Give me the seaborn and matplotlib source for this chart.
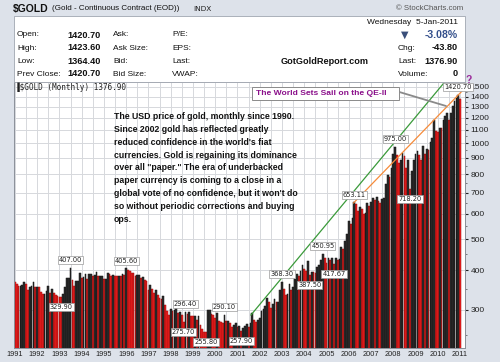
import numpy as np
import pandas as pd
import matplotlib
matplotlib.use("Agg")
import matplotlib.pyplot as plt
import matplotlib.ticker as mticker
from matplotlib.patches import Rectangle
from matplotlib.lines import Line2D
import seaborn as sns

# monthly closes of $GOLD, Jan 1991 .. Jan 2011
prev_close_1990 = 386.2
closes_1991 = [366.0, 362.7, 355.7, 357.8, 360.4, 368.4, 362.9, 347.4, 354.9, 357.5, 366.3, 353.2]
closes_1992 = [354.1, 353.1, 341.7, 336.4, 337.5, 343.4, 357.8, 340.0, 349.0, 339.3, 334.2, 333.0]
closes_1993 = [330.4, 329.9, 337.8, 354.3, 377.5, 378.5, 407.0, 371.6, 355.5, 369.6, 370.9, 391.8]
closes_1994 = [378.0, 381.6, 389.2, 376.5, 387.6, 388.3, 384.0, 385.8, 394.9, 383.1, 383.1, 383.3]
closes_1995 = [374.9, 376.4, 392.0, 389.8, 384.3, 387.1, 383.4, 382.4, 383.9, 382.7, 387.8, 387.0]
closes_1996 = [405.6, 400.7, 396.4, 392.9, 391.7, 382.0, 385.3, 386.5, 379.0, 379.5, 371.3, 369.3]
closes_1997 = [345.5, 358.6, 348.2, 340.2, 345.6, 334.6, 326.4, 325.4, 332.1, 311.4, 296.8, 289.2]
closes_1998 = [303.0, 297.4, 301.0, 308.7, 293.6, 296.3, 288.9, 275.7, 296.4, 292.3, 294.7, 287.8]
closes_1999 = [287.1, 287.3, 279.5, 286.6, 268.6, 261.0, 256.0, 255.8, 299.0, 299.1, 291.4, 288.7]
closes_2000 = [283.7, 293.7, 276.8, 275.1, 272.3, 290.1, 276.8, 277.0, 273.7, 264.5, 269.1, 272.7]
closes_2001 = [264.5, 266.7, 257.9, 263.2, 267.5, 270.6, 265.9, 273.0, 293.1, 278.8, 275.5, 278.7]
closes_2002 = [282.3, 297.0, 301.4, 308.2, 326.6, 318.5, 304.7, 312.8, 323.7, 316.9, 317.1, 347.2]
closes_2003 = [368.3, 350.3, 334.9, 336.8, 361.4, 346.0, 354.8, 375.6, 388.0, 384.0, 398.4, 416.1]
closes_2004 = [402.2, 397.5, 426.8, 387.5, 394.7, 394.6, 391.7, 408.3, 415.6, 429.4, 450.95, 438.0]
closes_2005 = [422.3, 435.5, 428.8, 436.0, 417.67, 435.0, 428.8, 433.3, 472.2, 465.3, 494.6, 518.9]
closes_2006 = [569.7, 557.4, 583.0, 653.11, 643.0, 613.5, 632.5, 623.5, 599.3, 604.2, 648.0, 635.7]
closes_2007 = [652.0, 671.9, 663.0, 679.4, 660.0, 650.5, 666.9, 672.0, 743.0, 794.5, 783.5, 833.8]
closes_2008 = [923.7, 975.0, 916.2, 865.1, 887.3, 928.3, 912.7, 833.0, 884.5, 718.2, 816.2, 883.6]
closes_2009 = [927.3, 942.0, 916.5, 883.2, 978.8, 927.0, 955.4, 953.6, 1007.6, 1039.8, 1181.9, 1095.2]
closes_2010 = [1083.0, 1118.9, 1113.3, 1179.3, 1215.0, 1244.0, 1181.0, 1246.0, 1307.8, 1357.6, 1384.6, 1420.7]
closes_2011 = [1376.9]

# labelled bars: (month index from Jan 1991, placement)
label_idx = [30, 25, 60, 92, 91, 113, 103, 122, 144, 159, 166, 172, 183, 205, 213, 239]
label_side = ['above', 'below', 'above', 'above', 'below', 'above', 'below', 'below',
              'above', 'below', 'above', 'below', 'above', 'above', 'below', 'above']

# trend lines (year, price)
green_t = [2001.60, 2010.37]
green_p = [289, 1574]
orange_t = [2006.21, 2011.18]
orange_p = [649, 1479]

y_ticks = [300, 400, 500, 600, 700, 800, 900, 1000, 1100, 1200, 1300, 1400, 1500]
x_years = list(range(1991, 2012))

text_block = ("The USD price of gold, monthly since 1990.\n"
              "Since 2002 gold has reflected greatly\n"
              "reduced confidence in the world's fiat\n"
              "currencies. Gold is regaining its dominance\n"
              "over all \"paper.\" The era of underbacked\n"
              "paper currency is coming to a close in a\n"
              "global vote of no confidence, but it won't do\n"
              "so without periodic corrections and buying\n"
              "ops.")

closes = (closes_1991 + closes_1992 + closes_1993 + closes_1994 + closes_1995 + closes_1996
          + closes_1997 + closes_1998 + closes_1999 + closes_2000 + closes_2001 + closes_2002
          + closes_2003 + closes_2004 + closes_2005 + closes_2006 + closes_2007 + closes_2008
          + closes_2009 + closes_2010 + closes_2011)
t = [1991 + i / 12 for i in range(len(closes))]
prev = [prev_close_1990] + closes[:-1]
direction = ['up' if c >= p else 'down' for c, p in zip(closes, prev)]
df = pd.DataFrame({'t': t, 'close': closes, 'dir': direction})

sns.set_style("white")
plt.rcParams['font.family'] = ['Liberation Sans', 'DejaVu Sans']

fig = plt.figure(figsize=(5, 3.62), dpi=100)
fig.patch.set_facecolor('#dde2ea')


def P(x, y):
    # pixel -> figure fraction
    return x / 500, 1 - y / 362


# info panel
x0, y0 = P(14, 82)
x1, y1 = P(465, 16)
fig.patches.append(Rectangle((x0, y0), x1 - x0, y1 - y0, transform=fig.transFigure,
                             fc='white', ec='#a0a6b0', lw=0.6, zorder=0))

ax = fig.add_axes([14 / 500, 14 / 362, (465 - 14) / 500, (348 - 82) / 362])
ax.set_facecolor('white')

sns.barplot(data=df, x='t', y='close', hue='dir', native_scale=True, dodge=False,
            palette={'up': '#2e2e2e', 'down': '#f01e1e'}, width=0.95, saturation=1,
            errorbar=None, legend=False, linewidth=0, ax=ax)
# darker outline like the stockcharts bars
for bar in ax.patches:
    fc = bar.get_facecolor()
    bar.set_edgecolor('#111111' if fc[0] < 0.5 else '#9a0c0c')
    bar.set_linewidth(0.35)
ax.set_yscale('log')
ax.set_ylim(228, 1555)
ax.set_xlim(1991 - 0.04, 2011.22)

sns.lineplot(x=green_t, y=green_p, color='#3a9a3a', lw=0.9, ax=ax, zorder=3)
sns.lineplot(x=orange_t, y=orange_p, color='#f68b3a', lw=0.9, ax=ax, zorder=3)

ax.yaxis.tick_right()
ax.yaxis.set_major_locator(mticker.FixedLocator(y_ticks))
ax.yaxis.set_major_formatter(mticker.FixedFormatter([str(v) for v in y_ticks]))
ax.yaxis.set_minor_locator(mticker.FixedLocator(list(range(250, 1550, 50))))
ax.yaxis.set_minor_formatter(mticker.NullFormatter())
ax.xaxis.set_major_locator(mticker.FixedLocator(x_years))
ax.xaxis.set_major_formatter(mticker.FixedFormatter([str(y) for y in x_years]))
ax.xaxis.set_minor_locator(mticker.FixedLocator([y + 0.5 for y in x_years]))
ax.tick_params(axis='y', which='major', labelsize=6, length=2, pad=2, colors='#222222',
               right=True, left=False)
ax.tick_params(axis='y', which='minor', length=1.2, right=True, left=False, color='#666666')
ax.tick_params(axis='x', which='both', labelsize=5.3, length=0, pad=2, colors='#222222')
ax.grid(True, which='both', axis='x', color='#d6d8dc', lw=0.7)
ax.grid(True, which='major', axis='y', color='#d6d8dc', lw=0.7)
ax.set_axisbelow(True)
ax.set_xlabel('')
ax.set_ylabel('')
for s in ax.spines.values():
    s.set_color('#8a8f98')
    s.set_linewidth(0.7)

# price labels
for i, side in zip(label_idx, label_side):
    v = closes[i]
    off = 5.5 if side == 'above' else -7.2
    ax.annotate(f"{v:.2f}", xy=(t[i], v), xytext=(0, off), textcoords='offset points',
                ha='center', va='center', fontsize=4.8, family='DejaVu Sans', color='#222222',
                bbox=dict(boxstyle='square,pad=0.15', fc='white', ec='#9a9a9a', lw=0.5),
                zorder=5)

# chart header inside plot
fig.text(*P(15, 87), "\u2590$GOLD (Monthly) 1376.90", fontsize=5.6, family='DejaVu Sans Mono',
         va='center', ha='left', color='#222222')

# commentary
fig.text(*P(114, 112), text_block, fontsize=6.3, weight='bold', va='top', ha='left',
         linespacing=1.55, color='#111111')

# QE-II callout
bx0, by0 = P(252, 100)
bx1, by1 = P(399, 87)
fig.add_artist(Line2D([P(396, 91)[0], P(446, 106)[0]], [P(396, 91)[1], P(446, 106)[1]],
                      transform=fig.transFigure, color='#8a8a8a', lw=1.3))
fig.patches.append(Rectangle((bx0, by0), bx1 - bx0, by1 - by0, transform=fig.transFigure,
                             fc='white', ec='#8a8a8a', lw=0.7, zorder=4))
fig.text(*P(256, 93.5), "The World Sets Sail on the QE-II", fontsize=6.1, weight='bold',
         color='#8b108b', va='center', ha='left', zorder=5)
fig.text(*P(469, 80), "?", fontsize=7.5, weight='bold', color='#9a2a9a', va='center', ha='center')

# title bar
fig.text(*P(13, 9), "$GOLD", fontsize=7.5, weight='bold', va='center', ha='left', color='#111111')
fig.text(*P(52, 9), "(Gold - Continuous Contract (EOD))", fontsize=5.8, va='center', ha='left',
         color='#111111')
fig.text(*P(193, 9), "INDX", fontsize=5.3, va='center', ha='left', color='#222222',
         family='DejaVu Sans')
fig.text(*P(463, 9), "\u00a9 StockCharts.com", fontsize=5.6, va='center', ha='right', color='#555555')

# info panel text
rows_y = [35, 48, 61.5, 74]
left_labels = ["Open:", "High:", "Low:", "Prev Close:"]
left_values = ["1420.70", "1423.60", "1364.40", "1420.70"]
mid_labels = ["Ask:", "Ask Size:", "Bid:", "Bid Size:"]
far_labels = ["P/E:", "EPS:", "Last:", "VWAP:"]
for y, a, b, c, d in zip(rows_y, left_labels, left_values, mid_labels, far_labels):
    fig.text(*P(17, y), a, fontsize=6, va='center', ha='left', color='#111111')
    fig.text(*P(67, y), b, fontsize=6.6, weight='bold', va='center', ha='left', color='#111111')
    fig.text(*P(113, y), c, fontsize=6, va='center', ha='left', color='#111111')
    fig.text(*P(172, y), d, fontsize=6, va='center', ha='left', color='#111111')

fig.text(*P(458, 23), "Wednesday  5-Jan-2011", fontsize=6, va='center', ha='right', color='#111111')
fig.text(*P(405, 35), "\u25bc", fontsize=7, va='center', ha='center', color='#3a4f7a',
         family='DejaVu Sans')
fig.text(*P(458, 35), "-3.08%", fontsize=7.6, weight='bold', va='center', ha='right', color='#34508c')
for y, a, b in zip([48, 61.5, 74], ["Chg:", "Last:", "Volume:"], ["-43.80", "1376.90", "0"]):
    fig.text(*P(398, y), a, fontsize=6, va='center', ha='left', color='#111111')
    fig.text(*P(458, y), b, fontsize=6.6, weight='bold', va='center', ha='right', color='#111111')
fig.text(*P(325, 61.5), "GotGoldReport.com", fontsize=6.6, weight='bold', va='center',
         ha='center', color='#111111')

fig.savefig('out.png', dpi=100, facecolor=fig.get_facecolor())
